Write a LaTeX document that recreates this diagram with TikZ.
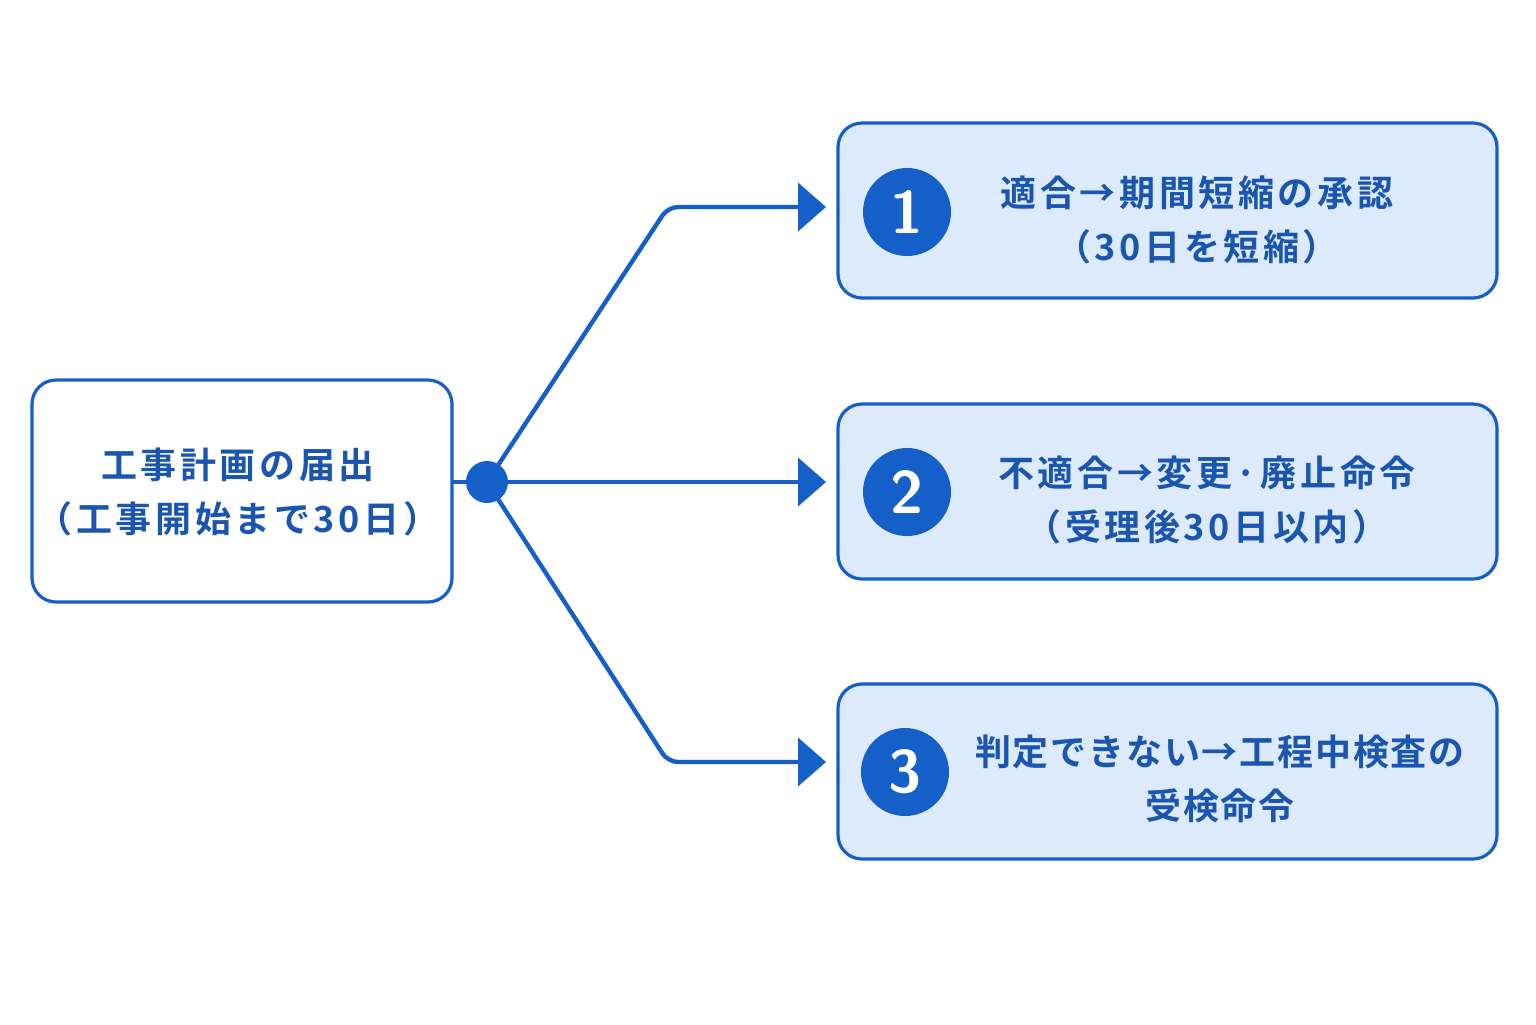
\documentclass[tikz,border=0pt]{standalone}
\usepackage{fontspec}
\newfontfamily\cjk{Noto Sans CJK JP}[BoldFont=* Bold,LetterSpace=10]
\newfontfamily\cjknarrow{Noto Sans CJK JP}[BoldFont=* Bold,LetterSpace=5]
\usetikzlibrary{arrows.meta}
\definecolor{mblue}{HTML}{1560C8}
\definecolor{tblue}{HTML}{1A55B0}
\definecolor{lfill}{HTML}{DCEAFB}
\begin{document}
\begin{tikzpicture}[x=0.5pt,y=-0.5pt,
 box/.style={draw=mblue,line width=1.6pt,rounded corners=12pt},
 txt/.style={text=tblue,font=\cjk\bfseries\fontsize{18}{27}\selectfont,align=center},
 num/.style={circle,fill=mblue,minimum size=44pt,inner sep=0,text=white,font=\sffamily\bfseries\fontsize{30}{30}\selectfont},
 conn/.style={draw=mblue,line width=2.2pt,rounded corners=5pt},
 arr/.style={conn,-{Triangle[length=14pt,width=24pt]}}]
\useasboundingbox (0,0) rectangle (1536,1024);
\fill[white] (0,0) rectangle (1536,1024);
\draw[box,fill=white] (32,380) rectangle (452,602);
\node[txt] (src) at (238,492) {工事計画の届出\\（工事開始まで30日）};
\coordinate (lr) at (452,482);
\node[circle,fill=mblue,minimum size=21pt,inner sep=0] (dot) at (487,482) {};
\foreach \i/\y in {1/123,2/404,3/684}{
 \draw[box,fill=lfill] (838,\y) rectangle (1497,\y+175);
}
\node[num] (n1) at (907,212) {1};
\node[num] (n2) at (907,492) {2};
\node[num] (n3) at (905,772) {3};
\node[txt] (t1) at (1197,220) {適合→期間短縮の承認\\（30日を短縮）};
\node[txt] (t2) at (1207,500) {不適合→変更·廃止命令\\（受理後30日以内）};
\node[txt,font=\cjknarrow\bfseries\fontsize{18}{27}\selectfont] (t3) at (1220,779) {判定できない→工程中検査の\\受検命令};
\coordinate (b1) at (826,207);
\coordinate (b2) at (826,482);
\coordinate (b3) at (826,762);
\draw[conn] (lr) -- (dot);
\draw[arr] (dot.center) -- (668,207) -- (b1);
\draw[arr] (dot.center) -- (b2);
\draw[arr] (dot.center) -- (668,762) -- (b3);
\end{tikzpicture}
\end{document}
